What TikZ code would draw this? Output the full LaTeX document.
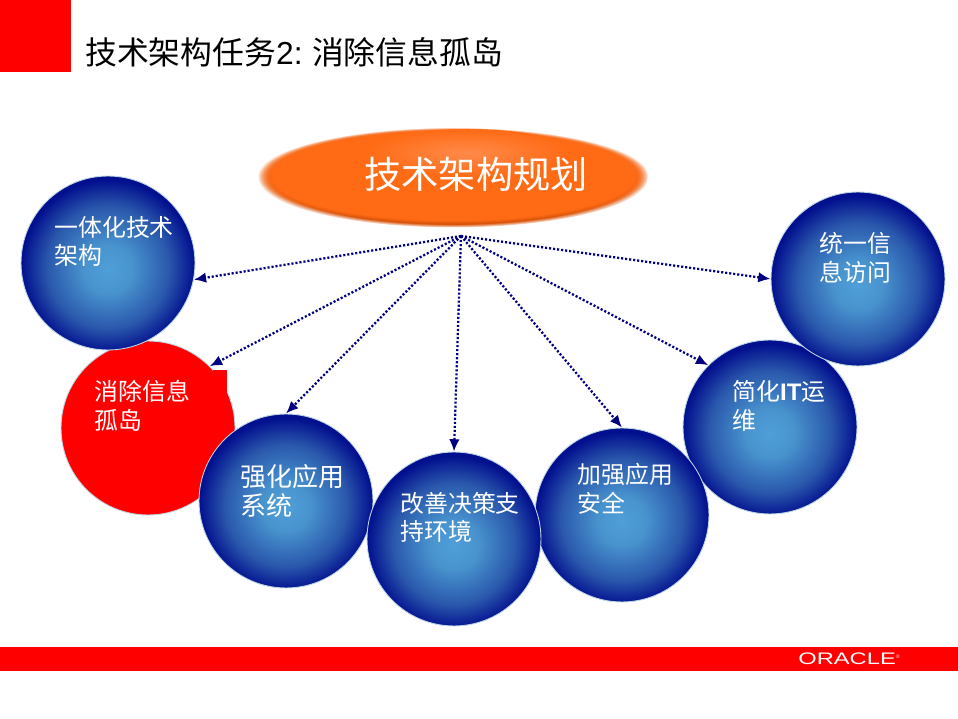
\documentclass[tikz,border=0pt]{standalone}
\usepackage{fontspec}
\setmainfont{Noto Sans CJK SC}
\newfontfamily\arialfont{Liberation Sans}
\usetikzlibrary{arrows.meta,fadings,shapes.geometric}

\definecolor{oraclered}{HTML}{FF0000}
\definecolor{ballcore}{HTML}{4F9FD8}
\definecolor{ballnear}{HTML}{4893CE}
\definecolor{ballmid}{HTML}{2A58AC}
\definecolor{balledge}{HTML}{020F8E}
\definecolor{ballrim}{HTML}{BCD6E2}
\definecolor{hubbody}{HTML}{FF6A14}
\definecolor{hublight}{HTML}{FF8A4A}
\definecolor{hubdark}{HTML}{D9540A}
\definecolor{linkblue}{HTML}{000080}

\pgfdeclareradialshading{ballshade}{\pgfpoint{0bp}{-2bp}}{%
  color(0bp)=(ballcore); color(7bp)=(ballnear);
  color(17.5bp)=(ballmid); color(25bp)=(balledge); color(50bp)=(balledge)}
\pgfdeclareradialshading{hubmask}{\pgfpoint{0bp}{0bp}}{%
  color(0bp)=(pgftransparent!0); color(23.2bp)=(pgftransparent!0);
  color(25bp)=(pgftransparent!100); color(50bp)=(pgftransparent!100)}
\pgfdeclarefading{hubfade}{\pgfuseshading{hubmask}}

\tikzset{
  ballnode/.style={circle, draw=ballrim, line width=0.5pt, minimum size=3.48cm,
    inner sep=0pt, shading=ballshade},
  rednode/.style={circle, draw=ballrim, line width=0.5pt, minimum size=3.48cm,
    inner sep=0pt, fill=oraclered},
  balltext/.style={anchor=west, align=left, inner sep=0pt, text=white,
    font=\fontsize{13.6}{16.4}\selectfont},
  hublayer/.style={ellipse, minimum width=7.8cm, minimum height=2cm, inner sep=0pt,
    path fading=hubfade},
  linkarrow/.style={-{Latex[length=7pt,width=6pt]}, linkblue, line width=1.3pt,
    dash pattern=on 1.2pt off 1.1pt},
}

\begin{document}
\begin{tikzpicture}[x=0.02cm, y=-0.02cm]
  \useasboundingbox (0,0) rectangle (958,719);
  \coordinate (hubtip) at (461,236);

  % 红色色块
  \fill[oraclered] (0,0) rectangle (71,72);
  \fill[oraclered] (0,647) rectangle (958,671);
  \node[anchor=west, inner sep=0pt, font=\fontsize{18.1}{20}\selectfont] (title) at (85,52)
    {技术架构任务{\arialfont 2:} 消除信息孤岛};
  \node[anchor=west, inner sep=0pt, text=white, font=\arialfont\fontsize{9.5}{10}\selectfont] (oracle) at (798,659)
    {\scalebox{1.42}[1]{ORACLE}\raisebox{3.5pt}{\fontsize{3}{3}\selectfont ®}};

  % 椭圆
  \node[hublayer, fill=hubdark] (hubrim) at (453,177.5) {};
  \node[hublayer, fill=hubbody, minimum height=1.92cm] (hubcore) at (453,175.5) {};
  \shade[inner color=hublight, outer color=hubbody] (467,153) ellipse (105 and 24);
  \node[text=white, inner sep=0pt, font=\fontsize{21.2}{24}\selectfont] (hubtext) at (476,174) {技术架构规划};

  % 圆
  \node[rednode] (ballB) at (148,428) {};
  \fill[oraclered] (213,370) rectangle (227,392);
  \node[balltext] (textB) at (94,405.5) {消除信息\\孤岛};
  \node[ballnode] (ballC) at (286,501) {};
  \node[balltext, font=\fontsize{14.8}{17}\selectfont] (textC) at (240,491) {强化应用\\系统};
  \node[ballnode] (ballF) at (770,427) {};
  \node[balltext] (textF) at (732,406) {简化{\arialfont\bfseries IT}运\\维};
  \node[ballnode] (ballE) at (622,515) {};
  \node[balltext] (textE) at (577,489) {加强应用\\安全};
  \node[ballnode] (ballD) at (454,539) {};
  \node[balltext] (textD) at (400,517.5) {改善决策支\\持环境};
  \node[ballnode] (ballA) at (108,263) {};
  \node[balltext] (textA) at (54,241.5) {一体化技术\\架构};
  \node[ballnode] (ballG) at (858,279) {};
  \node[balltext] (textG) at (819,258) {统一信\\息访问};

  % 箭头
  \draw[linkarrow] (hubtip) -- (ballA.-11.5);
  \draw[linkarrow] (hubtip) -- (ballB.45);
  \draw[linkarrow] (hubtip) -- (ballC.north);
  \draw[linkarrow] (hubtip) -- (ballD.north);
  \draw[linkarrow] (hubtip) -- (ballE.north);
  \draw[linkarrow] (hubtip) -- (ballF.135);
  \draw[linkarrow] (hubtip) -- (ballG.west);
\end{tikzpicture}
\end{document}
